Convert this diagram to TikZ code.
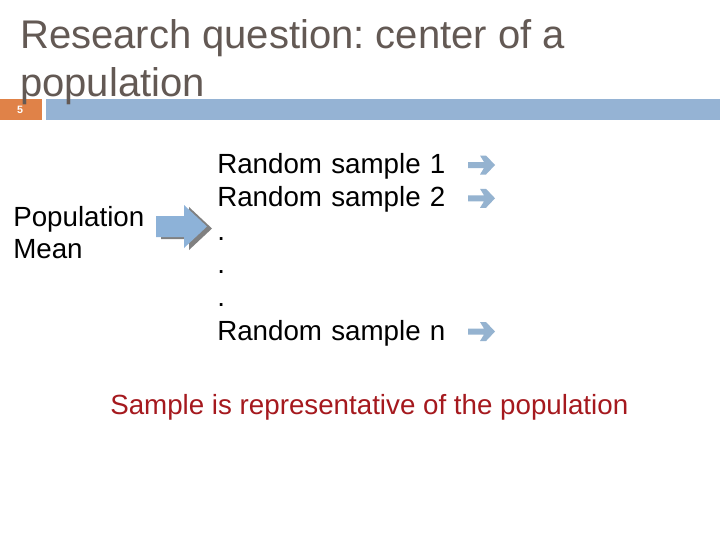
\documentclass[tikz,border=0pt]{standalone}
\usepackage{fontspec}
\setmainfont{Liberation Sans}
\frenchspacing
\usetikzlibrary{positioning}

\definecolor{titlegrey}{RGB}{99,89,84}
\definecolor{barorange}{RGB}{224,130,72}
\definecolor{barblue}{RGB}{149,179,212}
\definecolor{arrowblue}{RGB}{149,179,208}
\definecolor{popblue}{RGB}{141,178,216}
\definecolor{shadegrey}{RGB}{128,128,128}
\definecolor{notered}{RGB}{165,25,30}

\tikzset{
  titletext/.style={font=\fontsize{30}{36}\selectfont, text=titlegrey, align=left, inner sep=0pt},
  bodytext/.style={font=\fontsize{20.8}{25}\selectfont, inner sep=0pt},
  samp/.style={bodytext, text height=18.9pt, text depth=6.1pt, text width=190pt, align=left},
  rarrow/.pic={\fill[arrowblue] (0,-3) -- (16,-3) -- (12,-9.5) -- (18,-9.5) -- (27,0) -- (18,9.5) -- (12,9.5) -- (16,3) -- (0,3) -- cycle;},
  blockarr/.pic={\fill[pic actions] (0,-10.5) -- (28,-10.5) -- (28,-21.5) -- (51,0) -- (28,21.5) -- (28,10.5) -- (0,10.5) -- cycle;},
}

\begin{document}
\begin{tikzpicture}[x=0.75pt, y=-0.75pt, node distance=24.98pt]
\useasboundingbox (0,0) rectangle (720,540);
\fill[white] (0,0) rectangle (720,540);

% header bars
\fill[barorange] (0,99) rectangle (42,120);
\fill[barblue] (46,99) rectangle (720,120);
\node[font=\fontsize{8}{9}\selectfont\bfseries, text=white, inner sep=0pt] (slideno) at (20,109.5) {5};
\node[titletext, anchor=north west] (title) at (20,18.8) {Research question: center of a\\population};

% left side
\node[bodytext, font=\fontsize{20.8}{23.5}\selectfont, align=left, anchor=west] (pop) at (13,232.5) {Population\\Mean};
\pic[fill=shadegrey] at (161,228.5) {blockarr};
\pic[fill=popblue] at (156,226.5) {blockarr};

% samples
\node[samp, anchor=west] (s1) at (217,165) {Random sample 1};
\node[samp, below of=s1] (s2) {Random sample 2};
\node[samp, below of=s2] (d1) {.};
\node[samp, below of=d1] (d2) {.};
\node[samp, below of=d2] (d3) {.};
\node[samp, below of=d3] (sn) {Random sample n};
\path (s1.west) ++(251,0) pic {rarrow};
\path (s2.west) ++(251,0) pic {rarrow};
\path (sn.west) ++(251,0) pic {rarrow};

\node[bodytext, text=notered, anchor=base west] (note) at (110,414) {Sample is representative of the population};
\end{tikzpicture}
\end{document}
